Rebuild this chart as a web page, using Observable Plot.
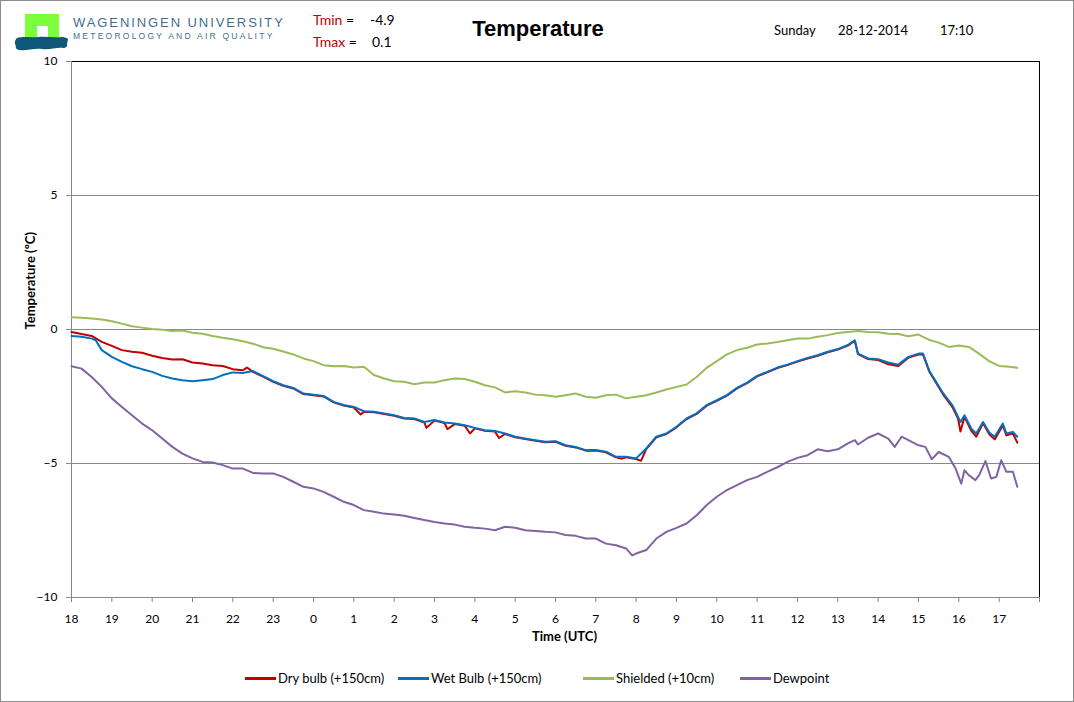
<!DOCTYPE html>
<html>
<head>
<meta charset="utf-8">
<script src="https://cdn.jsdelivr.net/npm/d3@7"></script>
<script src="https://cdn.jsdelivr.net/npm/@observablehq/plot@0.6"></script>
<style>
  html, body { margin: 0; padding: 0; background: #fff; }
  #wrap { position: relative; width: 1074px; height: 702px; overflow: hidden; font-family: Lato, "Open Sans", sans-serif; color: #000; }
  #border { position: absolute; left: 0; top: 0; width: 1074px; height: 702px; box-sizing: border-box; border: 1px solid #8c8c8c; pointer-events: none; }
  .abs { position: absolute; white-space: nowrap; }
  #chart { position: absolute; left: 0; top: 0; }
  .lg { position: absolute; top: 670px; font-size: 13px; line-height: 16px; }
  .lg i { display: inline-block; width: 31px; height: 2.5px; vertical-align: middle; margin-right: 2px; position: relative; top: -1px; }
</style>
</head>
<body>
<div id="wrap">
  <div id="chart"></div>

  <svg class="abs" style="left:0px;top:0px" width="80" height="60" viewBox="0 0 80 60">
    <rect x="25" y="14" width="34" height="27" fill="#7cff3a"/>
    <rect x="37" y="26" width="11" height="14" fill="#fff"/>
    <path d="M17,38 C24,36 30,38 38,37 C46,36 54,38 62,37 C65,37 67,38 68,39 L67,44 C68,46 66,48 63,48 C57,47 50,50 42,49 C34,48 26,51 20,50 C17,50 15,48 16,46 C14,43 15,40 17,38 Z" fill="#0d5878"/>
  </svg>
  <div class="abs" style="left:73px;top:15px;font-family:'Liberation Sans',Arial,sans-serif;font-size:13px;line-height:15px;letter-spacing:1.92px;color:#3f6f8c;">WAGENINGEN UNIVERSITY</div>
  <div class="abs" style="left:73px;top:31px;font-family:'Liberation Sans',Arial,sans-serif;font-size:8.5px;line-height:10px;letter-spacing:2.24px;color:#3f6f8c;">METEOROLOGY AND AIR QUALITY</div>

  <div class="abs" style="left:313px;top:11px;font-size:14px;line-height:18px;"><span style="color:#c00000">Tmin</span> =</div>
  <div class="abs" style="left:370px;top:11px;font-size:14px;line-height:18px;" id="tminv"></div>
  <div class="abs" style="left:313px;top:33px;font-size:14px;line-height:18px;"><span style="color:#c00000">Tmax</span> =</div>
  <div class="abs" style="left:372px;top:33px;font-size:14px;line-height:18px;" id="tmaxv"></div>

  <div class="abs" style="left:438px;width:200px;text-align:center;top:16px;font-family:'Liberation Sans',Arial,sans-serif;font-weight:bold;font-size:22px;line-height:26px;" id="title"></div>

  <div class="abs" style="left:774px;top:22px;font-size:13px;line-height:17px;" id="dday"></div>
  <div class="abs" style="left:838px;top:22px;font-size:13px;line-height:17px;" id="ddate"></div>
  <div class="abs" style="left:940px;top:22px;font-size:13px;line-height:17px;" id="dtime"></div>

  <div id="legend"></div>
  <div id="border"></div>
</div>
<script>
// ---------- header text ----------
const titleText = "Temperature";
const tMin = "-4.9";
const tMax = "0.1";
const dayName = "Sunday";
const dateText = "28-12-2014";
const timeText = "17:10";

// ---------- axes ----------
const xTickHours = [0,1,2,3,4,5,6,7,8,9,10,11,12,13,14,15,16,17,18,19,20,21,22,23,24];
const xTickLabels = ["18","19","20","21","22","23","0","1","2","3","4","5","6","7","8","9","10","11","12","13","14","15","16","17",""];
const yTicks = [-10, -5, 0, 5, 10];
const yGrid = [-5, 0, 5];

// ---------- series (time = hours since 18:00 UTC) ----------
const seriesNames = ["Dry bulb (+150cm)", "Wet Bulb (+150cm)", "Shielded (+10cm)", "Dewpoint"];
const seriesColors = ["#c00000", "#0070c0", "#9bbb59", "#8064a2"];

const dryTime = [0,0.25,0.5,0.75,1,1.25,1.5,1.75,2,2.25,2.5,2.75,3,3.25,3.5,3.75,4,4.25,4.35,4.5,4.75,5,5.25,5.5,5.75,6,6.25,6.5,6.75,7,7.17,7.25,7.5,7.75,8,8.25,8.5,8.75,8.8,9,9.25,9.32,9.5,9.75,9.88,10,10.25,10.5,10.6,10.75,11,11.25,11.5,11.75,12,12.25,12.5,12.75,13,13.25,13.5,13.65,13.75,14,14.12,14.25,14.5,14.75,15,15.25,15.5,15.75,16,16.25,16.5,16.75,17,17.25,17.5,17.75,18,18.25,18.5,18.75,19,19.25,19.42,19.5,19.75,20,20.25,20.5,20.75,21,21.11,21.27,21.6,21.85,21.98,22.04,22.14,22.31,22.43,22.6,22.76,22.89,23.09,23.18,23.34,23.45];
const dryVals = [-0.09,-0.17,-0.24,-0.46,-0.61,-0.77,-0.83,-0.87,-0.98,-1.06,-1.12,-1.11,-1.23,-1.27,-1.33,-1.36,-1.48,-1.52,-1.42,-1.58,-1.76,-1.95,-2.10,-2.20,-2.41,-2.45,-2.50,-2.72,-2.84,-2.91,-3.17,-3.07,-3.09,-3.15,-3.22,-3.32,-3.34,-3.47,-3.67,-3.40,-3.49,-3.72,-3.53,-3.59,-3.88,-3.69,-3.78,-3.81,-4.05,-3.90,-4.02,-4.09,-4.15,-4.21,-4.19,-4.34,-4.40,-4.52,-4.52,-4.58,-4.77,-4.82,-4.77,-4.83,-4.90,-4.46,-4.02,-3.90,-3.65,-3.34,-3.15,-2.84,-2.66,-2.47,-2.20,-2.00,-1.75,-1.60,-1.44,-1.33,-1.20,-1.08,-0.98,-0.85,-0.75,-0.60,-0.42,-0.92,-1.10,-1.14,-1.30,-1.36,-1.05,-0.93,-0.92,-1.58,-2.40,-2.92,-3.32,-3.81,-3.26,-3.78,-4.00,-3.50,-3.92,-4.10,-3.58,-3.95,-3.88,-4.22];

const wetTime = [0,0.25,0.5,0.6,0.75,1,1.25,1.5,1.75,2,2.25,2.5,2.75,3,3.25,3.5,3.75,4,4.25,4.5,4.75,5,5.25,5.5,5.75,6,6.25,6.5,6.75,7,7.25,7.5,7.75,8,8.25,8.5,8.75,9,9.25,9.5,9.75,10,10.25,10.5,10.75,11,11.25,11.5,11.75,12,12.25,12.5,12.75,13,13.25,13.5,13.75,14,14.25,14.5,14.75,15,15.25,15.5,15.75,16,16.25,16.5,16.75,17,17.25,17.5,17.75,18,18.25,18.5,18.75,19,19.25,19.42,19.5,19.75,20,20.25,20.5,20.75,21,21.11,21.27,21.6,21.85,21.98,22.04,22.14,22.31,22.43,22.6,22.76,22.89,23.09,23.18,23.34,23.45];
const wetVals = [-0.24,-0.27,-0.34,-0.40,-0.77,-1.02,-1.21,-1.37,-1.48,-1.58,-1.73,-1.83,-1.89,-1.93,-1.89,-1.85,-1.70,-1.60,-1.62,-1.55,-1.74,-1.93,-2.08,-2.18,-2.39,-2.43,-2.48,-2.70,-2.82,-2.89,-3.05,-3.07,-3.13,-3.20,-3.30,-3.32,-3.45,-3.38,-3.47,-3.51,-3.57,-3.67,-3.76,-3.79,-3.88,-4.00,-4.07,-4.13,-4.19,-4.17,-4.32,-4.38,-4.50,-4.50,-4.56,-4.75,-4.75,-4.81,-4.44,-4.00,-3.88,-3.63,-3.32,-3.13,-2.82,-2.64,-2.45,-2.18,-1.98,-1.73,-1.58,-1.42,-1.31,-1.18,-1.06,-0.96,-0.83,-0.73,-0.58,-0.40,-0.90,-1.08,-1.11,-1.23,-1.31,-1.02,-0.90,-0.90,-1.55,-2.35,-2.85,-3.26,-3.45,-3.20,-3.70,-3.88,-3.45,-3.85,-4.00,-3.51,-3.88,-3.82,-4.00];

const shieldTime = [0,0.25,0.5,0.75,1,1.25,1.5,1.75,2,2.25,2.5,2.75,3,3.25,3.5,3.75,4,4.25,4.5,4.75,5,5.25,5.5,5.75,6,6.25,6.5,6.75,7,7.25,7.5,7.75,8,8.25,8.5,8.75,9,9.25,9.5,9.75,10,10.25,10.5,10.75,11,11.25,11.5,11.75,12,12.25,12.5,12.75,13,13.25,13.5,13.75,14,14.25,14.5,14.75,15,15.25,15.5,15.75,16,16.25,16.5,16.75,17,17.25,17.5,17.75,18,18.25,18.5,18.75,19,19.25,19.5,19.75,20,20.25,20.5,20.75,21,21.25,21.5,21.75,22,22.25,22.5,22.75,23,23.25,23.45];
const shieldVals = [0.46,0.44,0.41,0.37,0.31,0.22,0.12,0.07,0.02,-0.01,-0.06,-0.04,-0.12,-0.16,-0.24,-0.31,-0.36,-0.44,-0.53,-0.66,-0.72,-0.82,-0.93,-1.08,-1.18,-1.33,-1.37,-1.36,-1.42,-1.39,-1.70,-1.83,-1.93,-1.95,-2.04,-1.98,-1.98,-1.89,-1.83,-1.85,-1.95,-2.08,-2.16,-2.35,-2.30,-2.35,-2.43,-2.45,-2.51,-2.45,-2.39,-2.51,-2.55,-2.45,-2.43,-2.57,-2.51,-2.45,-2.35,-2.24,-2.14,-2.05,-1.77,-1.43,-1.18,-0.93,-0.77,-0.68,-0.56,-0.52,-0.47,-0.40,-0.34,-0.34,-0.27,-0.21,-0.13,-0.09,-0.06,-0.09,-0.10,-0.16,-0.17,-0.25,-0.19,-0.38,-0.49,-0.65,-0.60,-0.65,-0.90,-1.18,-1.36,-1.39,-1.43];

const dewTime = [0,0.25,0.5,0.75,1,1.25,1.5,1.75,2,2.25,2.5,2.75,3,3.25,3.5,3.75,4,4.25,4.5,4.75,5,5.25,5.5,5.75,6,6.25,6.5,6.75,7,7.25,7.5,7.75,8,8.25,8.5,8.75,9,9.25,9.5,9.75,10,10.25,10.5,10.75,11,11.25,11.5,11.75,12,12.25,12.5,12.75,13,13.25,13.5,13.75,13.9,14,14.25,14.5,14.75,15,15.25,15.5,15.75,16,16.25,16.5,16.75,17,17.25,17.5,17.75,18,18.25,18.5,18.75,19,19.25,19.42,19.5,19.75,20,20.25,20.41,20.58,20.75,21,21.17,21.33,21.5,21.75,21.92,22.06,22.14,22.25,22.41,22.5,22.66,22.8,22.93,23.05,23.18,23.34,23.45];
const dewVals = [-1.37,-1.46,-1.77,-2.14,-2.57,-2.89,-3.20,-3.51,-3.76,-4.07,-4.38,-4.63,-4.81,-4.94,-4.96,-5.06,-5.19,-5.19,-5.35,-5.37,-5.37,-5.50,-5.68,-5.87,-5.93,-6.06,-6.24,-6.43,-6.55,-6.74,-6.80,-6.87,-6.90,-6.95,-7.03,-7.11,-7.18,-7.24,-7.28,-7.36,-7.40,-7.43,-7.49,-7.36,-7.40,-7.49,-7.52,-7.55,-7.57,-7.67,-7.70,-7.80,-7.80,-7.99,-8.05,-8.17,-8.43,-8.36,-8.23,-7.80,-7.55,-7.40,-7.24,-6.93,-6.55,-6.24,-5.99,-5.81,-5.62,-5.50,-5.31,-5.14,-4.94,-4.79,-4.69,-4.47,-4.54,-4.47,-4.25,-4.13,-4.29,-4.04,-3.88,-4.07,-4.38,-4.00,-4.13,-4.32,-4.38,-4.84,-4.57,-4.75,-5.19,-5.75,-5.25,-5.44,-5.62,-5.44,-4.91,-5.56,-5.50,-4.88,-5.31,-5.31,-5.87];

// ---------- build table ----------
const seriesTimes = [dryTime, wetTime, shieldTime, dewTime];
const seriesVals = [dryVals, wetVals, shieldVals, dewVals];
const rows = [];
seriesNames.forEach((name, i) => {
  seriesTimes[i].forEach((t, j) => rows.push({series: name, t, v: seriesVals[i][j]}));
});

document.getElementById("title").textContent = titleText;
document.getElementById("tminv").textContent = tMin;
document.getElementById("tmaxv").textContent = tMax;
document.getElementById("dday").textContent = dayName;
document.getElementById("ddate").textContent = dateText;
document.getElementById("dtime").textContent = timeText;

const gridGray = "#878787";
const lineMarks = seriesNames.map((name, i) =>
  Plot.line(rows.filter(d => d.series === name), {x: "t", y: "v", stroke: seriesColors[i], strokeWidth: 2, strokeLinejoin: "round", curve: "linear"})
);

const chart = Plot.plot({
  width: 1074,
  height: 650,
  marginLeft: 71,
  marginRight: 35,
  marginTop: 61,
  marginBottom: 53,
  style: {fontFamily: "Lato, 'Open Sans', sans-serif", fontSize: "12px", color: "#000", background: "transparent", overflow: "visible"},
  x: {domain: [0, 24]},
  y: {domain: [-10, 10]},
  marks: [
    Plot.ruleY(yGrid, {stroke: gridGray, strokeWidth: 1}),
    Plot.frame({stroke: "#000", strokeWidth: 1}),
    Plot.ruleX([0], {stroke: gridGray}),
    Plot.ruleY([-10], {stroke: gridGray}),
    Plot.axisX({ticks: xTickHours, tickFormat: (d) => xTickLabels[xTickHours.indexOf(d)], tickSize: 5, tickPadding: 12, stroke: gridGray, fill: "#000", fontSize: 12, label: null}),
    Plot.axisY({ticks: yTicks, tickSize: 5, tickPadding: 9, stroke: gridGray, fill: "#000", fontSize: 12, label: null}),
    ...lineMarks,
    Plot.text(["Temperature (ºC)"], {frameAnchor: "left", dx: -41, rotate: -90, fontWeight: "bold", fontSize: 13}),
    Plot.text(["Time (UTC)"], {frameAnchor: "bottom", dy: 43, dx: 9, fontWeight: "bold", fontSize: 13})
  ]
});
document.getElementById("chart").appendChild(chart);

// ---------- legend ----------
const legendX = [245, 398, 583, 740];
const legend = document.getElementById("legend");
seriesNames.forEach((name, i) => {
  const el = document.createElement("div");
  el.className = "lg";
  el.style.left = legendX[i] + "px";
  el.innerHTML = `<i style="background:${seriesColors[i]}"></i>`;
  el.appendChild(document.createTextNode(name));
  legend.appendChild(el);
});
</script>
</body>
</html>
